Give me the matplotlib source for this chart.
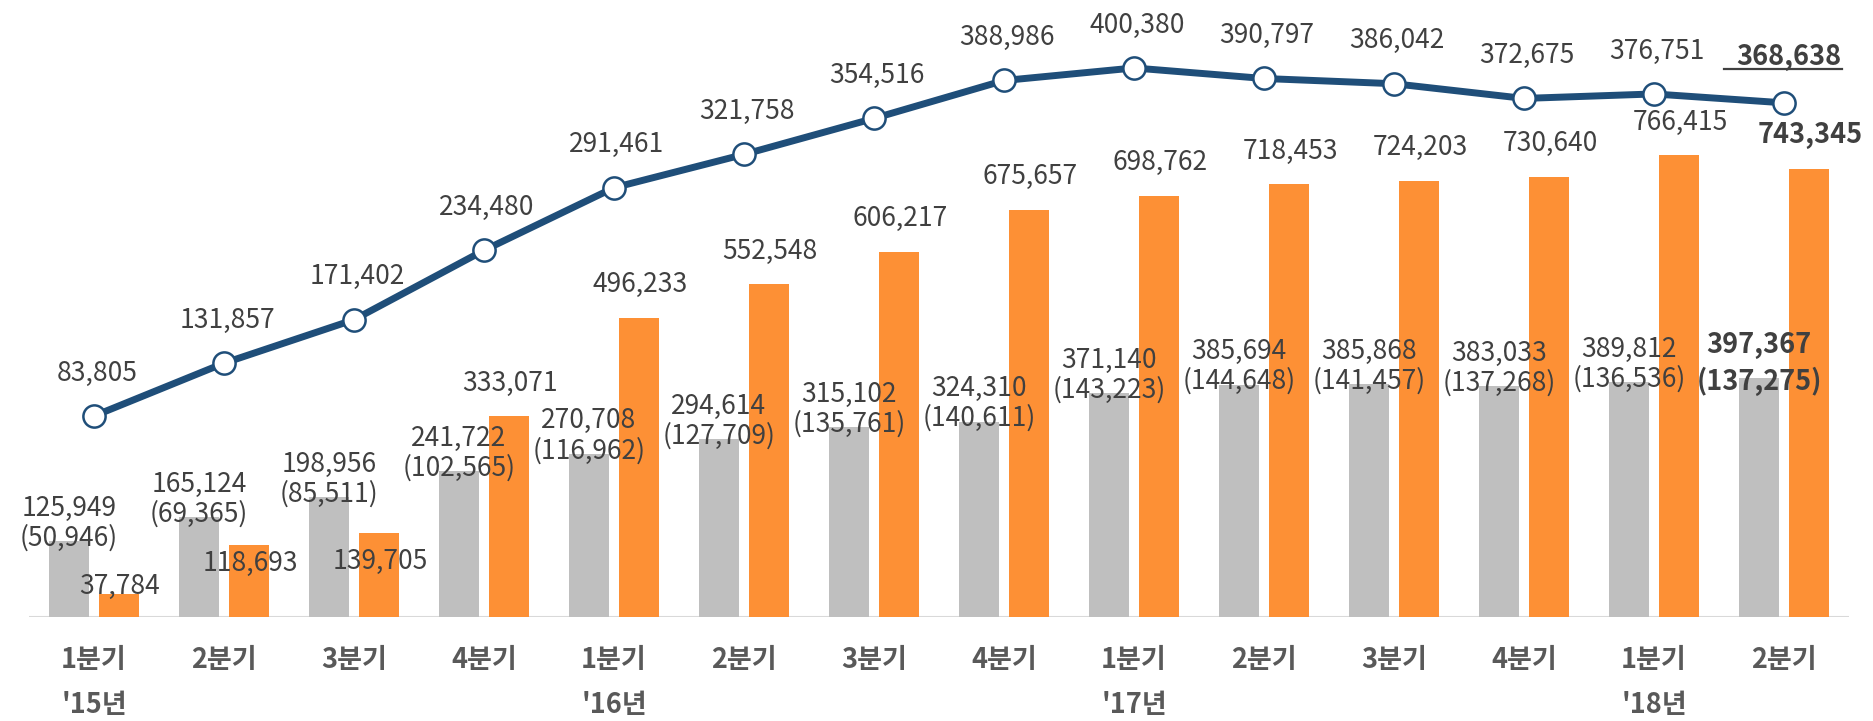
import numpy as np
import matplotlib
matplotlib.use('Agg')
import matplotlib.pyplot as plt
from matplotlib.lines import Line2D
from matplotlib.transforms import IdentityTransform

plt.rcParams['font.family'] = ['Noto Sans CJK KR', 'DejaVu Sans']

# DATA
quarters = ['1분기', '2분기', '3분기', '4분기',
            '1분기', '2분기', '3분기', '4분기',
            '1분기', '2분기', '3분기', '4분기',
            '1분기', '2분기']
year_labels = ["'15년", "'16년", "'17년", "'18년"]
year_pos = [0, 4, 8, 12]

gray_total = [125949, 165124, 198956, 241722, 270708, 294614, 315102,
              324310, 371140, 385694, 385868, 383033, 389812, 397367]
gray_sub = [50946, 69365, 85511, 102565, 116962, 127709, 135761,
            140611, 143223, 144648, 141457, 137268, 136536, 137275]
orange_vals = [37784, 118693, 139705, 333071, 496233, 552548, 606217,
               675657, 698762, 718453, 724203, 730640, 766415, 743345]
line_vals = [83805, 131857, 171402, 234480, 291461, 321758, 354516,
             388986, 400380, 390797, 386042, 372675, 376751, 368638]

# style
GRAY = '#BFBFBF'
ORANGE = '#FD9035'
BLUE = '#1F4E79'
TXT = '#404040'
TICK = '#595959'
PX = 72 / 100   # points per pixel at dpi 100
FS = 19
FSB = 19.5
FST = 19.5

# label offsets (pixels above bar top) for the orange labels, as placed in the source
orange_dy = [8, -18, -29] + [33] * 11

n = len(quarters)
x = np.arange(n)
w = 0.3077
off = 0.1923

fig = plt.figure(figsize=(18.74, 7.21), dpi=100)
ax = fig.add_axes([0.01548, 0.14424, 0.97119, 0.85576])
ax2 = ax.twinx()

ax.bar(x - off, gray_total, width=w, color=GRAY, zorder=2)
ax.bar(x + off, orange_vals, width=w, color=ORANGE, zorder=2)
ax.axhline(0, color='#D9D9D9', lw=2.2, zorder=1)

ax.set_xlim(-0.5, n - 0.5)
ax.set_ylim(0, 1023700)
ax2.set_ylim(-99063, 462203)

ax2.plot(x, line_vals, color=BLUE, lw=5, marker='o', ms=16,
         mfc='white', mec=BLUE, mew=1.8, zorder=5)

for a in (ax, ax2):
    for s in a.spines.values():
        s.set_visible(False)
    a.set_yticks([])
    a.set_xticks([])


def label(a, xx, yy, s, dy, dx=0, size=FS, weight='normal'):
    return a.annotate(s, (xx, yy), xytext=(dx * PX, dy * PX),
                      textcoords='offset points', ha='center', va='center',
                      fontsize=size, fontweight=weight, color=TXT, zorder=6)


last = n - 1
for i in range(n):
    bold = i == last
    fs = FSB if bold else FS
    fw = 'bold' if bold else 'normal'
    # gray bar: total and (sub) on two lines
    d1, d2 = (33, -4) if bold else (33, 3)
    label(ax, x[i] - off, gray_total[i], f'{gray_total[i]:,}', d1, size=fs, weight=fw)
    label(ax, x[i] - off, gray_total[i], f'({gray_sub[i]:,})', d2, size=fs, weight=fw)
    # orange bar
    od = 34 if bold else orange_dy[i]
    label(ax, x[i] + off, orange_vals[i], f'{orange_vals[i]:,}', od, dx=1, size=fs, weight=fw)
    # line
    if bold:
        t_last = label(ax2, x[i], line_vals[i], f'{line_vals[i]:,}', 46, dx=5, size=FSB, weight='bold')
    else:
        label(ax2, x[i], line_vals[i], f'{line_vals[i]:,}', 43, dx=3)

# x labels
for i in range(n):
    ax.annotate(quarters[i], (x[i], 0), xytext=(0, -43 * PX), textcoords='offset points',
                ha='center', va='center', fontsize=FST, fontweight='bold', color=TICK)
for p, yl in zip(year_pos, year_labels):
    ax.annotate(yl, (x[p], 0), xytext=(0, -88 * PX), textcoords='offset points',
                ha='center', va='center', fontsize=FST, fontweight='bold', color=TICK)

# underline under the last line value
fig.canvas.draw()
bb = t_last.get_window_extent()
uy = bb.y0 + 2
fig.add_artist(Line2D([bb.x0 - 12, bb.x1], [uy, uy], color=TXT, lw=1.6,
                      transform=IdentityTransform()))

fig.savefig('out.png', dpi=100)
